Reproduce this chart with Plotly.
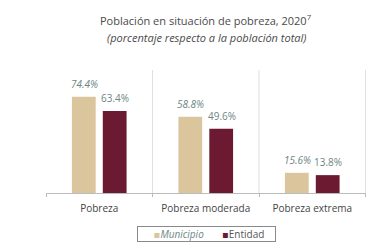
import plotly.graph_objects as go

categories = ["Pobreza", "Pobreza moderada", "Pobreza extrema"]
municipio = [74.4, 58.8, 15.6]
entidad = [63.4, 49.6, 13.8]
mun_labels = ["74.4%", "58.8%", "15.6%"]
ent_labels = ["63.4%", "49.6%", "13.8%"]
separators = [0.5, 1.5, 2.5]

FONT = "Open Sans"
TAN = "#DBC59C"
MAROON = "#6B1A31"
LABEL = "#6E8584"
NB = "\u00a0"

fig = go.Figure()
fig.add_trace(go.Bar(
    x=categories, y=municipio, name="Municipio", showlegend=False,
    marker=dict(color=TAN, line=dict(width=0)),
))
fig.add_trace(go.Bar(
    x=categories, y=entidad, name="Entidad", showlegend=False,
    marker=dict(color=MAROON, line=dict(width=0)),
))

annotations = []
for cat, v, t in zip(categories, municipio, mun_labels):
    annotations.append(dict(x=cat, y=v, text="<i>" + t + "</i>", showarrow=False,
                            xshift=-15, yshift=13, xref="x", yref="y",
                            font=dict(family=FONT, size=10, color=LABEL)))
for cat, v, t in zip(categories, entidad, ent_labels):
    annotations.append(dict(x=cat, y=v, text=t, showarrow=False,
                            xshift=16, yshift=13, xref="x", yref="y",
                            font=dict(family=FONT, size=10, color=LABEL)))

annotations.append(dict(
    x=0.5, y=1, xref="paper", yref="paper", yanchor="middle", yshift=50,
    showarrow=False,
    text="Población en situación de pobreza, 2020<sup>7</sup>",
    font=dict(family=FONT, size=11, color="#4A4A4A"),
))
annotations.append(dict(
    x=0.5, y=1, xref="paper", yref="paper", yanchor="middle", yshift=33,
    showarrow=False,
    text="<i>(porcentaje respecto a la población total)</i>",
    font=dict(family=FONT, size=11, color="#4A4A4A"),
))

# legend box
sq = "<span style='color:%s; font-family:DejaVu Sans'>▪</span>"
annotations.append(dict(
    x=0.5, y=0, xref="paper", yref="paper", yanchor="top", yshift=-33,
    showarrow=False, align="center",
    text=(NB * 6 + (sq % TAN) + "<i><span style='color:%s'>Municipio</span></i>" % LABEL
          + NB * 7 + (sq % MAROON) + "<span style='color:#555555'>Entidad</span>" + NB * 4),
    font=dict(family=FONT, size=10, color="#555555"),
    bordercolor="#8A8A8A", borderwidth=1, borderpad=0, bgcolor="white",
))

shapes = [dict(type="line", xref="x", yref="paper", x0=s, x1=s, y0=0, y1=1,
               line=dict(color="#E0E0E0", width=1), layer="below")
          for s in separators]

fig.update_layout(
    width=368, height=236,
    margin=dict(l=38, r=10, t=62, b=51, autoexpand=False),
    paper_bgcolor="white", plot_bgcolor="white",
    barmode="group", bargap=0.42, bargroupgap=0.23,
    font=dict(family=FONT, size=10, color="#444444"),
    annotations=annotations, shapes=shapes,
    showlegend=False,
    xaxis=dict(type="category", tickson="boundaries", showgrid=False,
               showline=True, linecolor="#BBBBBB", ticks="outside",
               ticklen=3, tickcolor="#BBBBBB", ticklabelstandoff=6,
               tickfont=dict(size=10, color="#444444")),
    yaxis=dict(range=[0, 95], visible=False, showgrid=False, zeroline=False),
)

fig.write_html("out.html")
